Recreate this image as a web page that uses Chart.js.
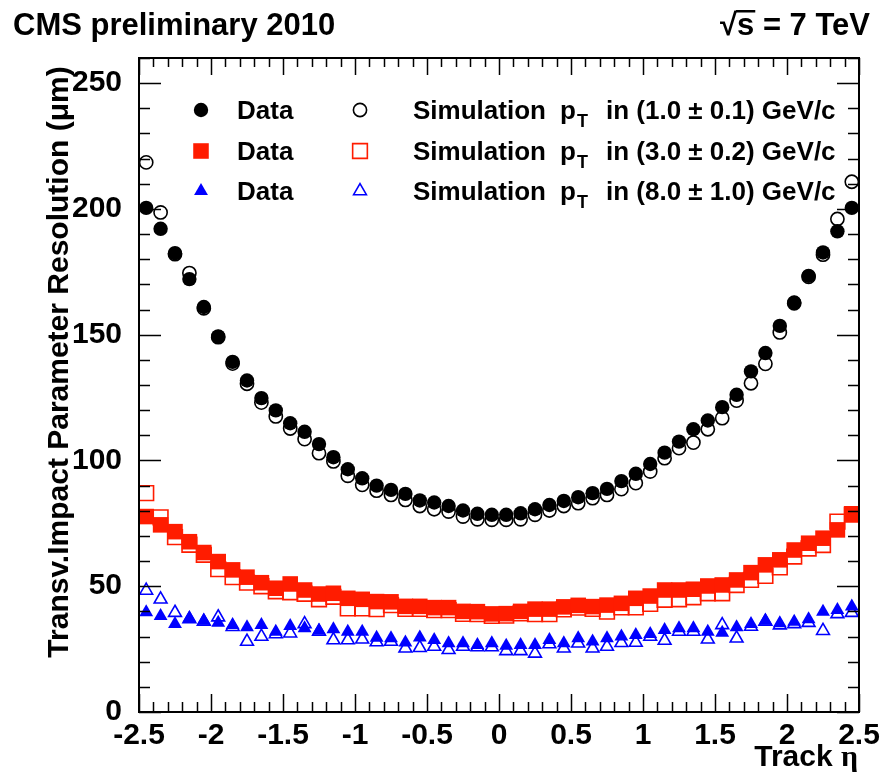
<!DOCTYPE html>
<html>
<head>
<meta charset="utf-8">
<title>Transverse impact parameter resolution vs track eta</title>
<script src="https://cdn.jsdelivr.net/npm/chart.js@4.4.1/dist/chart.umd.min.js"></script>
<style>
  html, body { margin: 0; padding: 0; background: #fff; }
  canvas { display: block; }
</style>
</head>
<body>
<canvas id="ipResolution" width="884" height="778"></canvas>
<script>
'use strict';

// bin centres in track eta
const etaBins = [
  -2.45, -2.35, -2.25, -2.15, -2.05, -1.95, -1.85, -1.75, -1.65, -1.55,
  -1.45, -1.35, -1.25, -1.15, -1.05, -0.95, -0.85, -0.75, -0.65, -0.55,
  -0.45, -0.35, -0.25, -0.15, -0.05, 0.05, 0.15, 0.25, 0.35, 0.45,
  0.55, 0.65, 0.75, 0.85, 0.95, 1.05, 1.15, 1.25, 1.35, 1.45,
  1.55, 1.65, 1.75, 1.85, 1.95, 2.05, 2.15, 2.25, 2.35, 2.45
];

// resolution in micrometres, pT 1.0 GeV/c
const dataPt1 = [
  200.4, 192.1, 182.4, 172.1, 161.0, 149.3, 139.2, 131.8, 124.8, 119.9,
  114.8, 111.4, 106.5, 101.3, 96.5, 92.9, 90.0, 88.3, 86.7, 84.1,
  83.3, 81.9, 80.1, 78.8, 78.4, 78.4, 79.0, 80.6, 82.3, 83.9,
  85.4, 87.0, 88.7, 91.8, 94.7, 98.6, 103.1, 107.5, 112.4, 115.9,
  121.2, 126.1, 135.4, 142.7, 153.5, 162.8, 173.4, 182.7, 191.1, 200.4
];
const simPt1 = [
  218.5, 198.6, 182.0, 174.5, 160.5, 149.0, 138.5, 130.5, 123.0, 117.5,
  112.7, 108.5, 102.9, 99.6, 93.9, 90.3, 88.0, 86.3, 84.3, 81.9,
  80.6, 79.7, 77.7, 76.6, 76.4, 76.4, 76.6, 78.4, 80.1, 81.9,
  83.0, 85.0, 86.3, 88.6, 91.0, 95.6, 100.9, 104.9, 107.1, 112.4,
  116.8, 123.8, 130.7, 138.4, 150.9, 162.5, 173.0, 181.8, 196.0, 210.8
];

// pT 3.0 GeV/c
const dataPt3 = [
  77.7, 74.4, 71.7, 67.7, 63.4, 59.8, 56.5, 53.6, 51.4, 49.2,
  50.9, 48.5, 46.9, 47.2, 45.2, 44.8, 43.9, 43.8, 42.0, 42.0,
  41.5, 41.5, 40.0, 39.9, 39.0, 39.1, 40.0, 40.9, 40.9, 41.8,
  42.4, 41.9, 42.5, 43.2, 45.2, 46.1, 48.5, 48.5, 48.8, 50.1,
  50.5, 52.5, 55.4, 58.5, 60.5, 64.4, 67.1, 69.1, 72.4, 78.8
];
const simPt3 = [
  87.0, 77.4, 69.5, 66.5, 62.5, 56.8, 53.6, 51.4, 50.0, 48.0,
  47.6, 47.0, 44.8, 45.8, 41.2, 41.2, 40.9, 42.5, 41.0, 41.0,
  40.5, 40.5, 39.0, 38.9, 38.2, 38.3, 39.2, 38.9, 38.9, 40.8,
  41.5, 41.0, 39.9, 41.6, 41.6, 43.0, 44.6, 44.8, 45.6, 47.2,
  47.2, 50.5, 52.5, 54.1, 57.5, 61.8, 65.0, 66.4, 75.7, 78.5
];

// pT 8.0 GeV/c
const dataPt8 = [
  39.7, 38.2, 35.0, 37.3, 36.3, 35.5, 34.6, 33.7, 34.6, 31.9,
  34.2, 33.3, 32.3, 32.9, 31.9, 31.9, 29.5, 29.3, 27.6, 29.6,
  28.6, 27.3, 27.3, 26.6, 27.3, 26.3, 26.6, 26.6, 28.6, 27.3,
  29.3, 28.0, 29.3, 30.0, 30.6, 31.0, 32.6, 33.3, 33.3, 31.9,
  31.5, 33.7, 35.0, 36.3, 35.3, 35.9, 36.9, 39.9, 40.6, 41.9
];
const simPt8 = [
  48.3, 44.8, 39.5, 37.0, 36.0, 37.7, 33.9, 28.0, 30.0, 31.0,
  31.3, 35.0, 32.0, 28.6, 28.6, 28.9, 27.8, 28.0, 25.3, 25.5,
  26.0, 24.7, 26.0, 25.8, 25.8, 24.3, 24.3, 23.3, 27.0, 25.3,
  27.3, 25.3, 26.0, 27.5, 27.6, 30.0, 28.4, 32.0, 32.0, 28.9,
  34.6, 29.3, 34.0, 36.0, 34.5, 35.0, 35.5, 32.3, 39.0, 39.5
];

const xTickValues = [-2.5, -2, -1.5, -1, -0.5, 0, 0.5, 1, 1.5, 2, 2.5];
const yTickValues = [0, 50, 100, 150, 200, 250];
const ptRanges = ['(1.0 \u00b1 0.1) GeV/c', '(3.0 \u00b1 0.2) GeV/c', '(8.0 \u00b1 1.0) GeV/c'];

const SANS = "'Liberation Sans', Arial, Helvetica, sans-serif";
const SERIF = "'Liberation Serif', 'DejaVu Serif', serif";
const RED = 'rgb(255, 28, 0)';
const BLUE = 'rgb(0, 0, 255)';

// marker look per pT bin
const markers = [
  { style: 'circle', color: '#000', radius: 7.2 },
  { style: 'rect', color: RED, radius: 11 },
  { style: 'triangle', color: BLUE, radius: 8 }
];

function points(values) {
  return etaBins.map((eta, i) => ({ x: eta, y: values[i] }));
}

function dataSet(label, values, m, filled) {
  return {
    label: label,
    data: points(values),
    pointStyle: m.style,
    pointRadius: filled ? m.radius : m.radius - 0.6,
    pointBackgroundColor: filled ? m.color : 'rgba(0,0,0,0)',
    pointBorderColor: m.color,
    pointBorderWidth: filled ? 0 : 1.6,
    pointHoverRadius: m.radius,
    showLine: false,
    order: filled ? 0 : 1
  };
}

function drawMarker(ctx, m, x, y, filled) {
  const r = filled ? m.radius : m.radius - 0.6;
  ctx.save();
  ctx.beginPath();
  if (m.style === 'circle') {
    ctx.arc(x, y, r, 0, Math.PI * 2);
  } else if (m.style === 'rect') {
    const s = r * Math.SQRT1_2;
    ctx.rect(x - s, y - s, 2 * s, 2 * s);
  } else {
    ctx.moveTo(x, y - r);
    ctx.lineTo(x + r * Math.sin(Math.PI * 2 / 3), y - r * Math.cos(Math.PI * 2 / 3));
    ctx.lineTo(x + r * Math.sin(Math.PI * 4 / 3), y - r * Math.cos(Math.PI * 4 / 3));
    ctx.closePath();
  }
  if (filled) {
    ctx.fillStyle = m.color;
    ctx.fill();
  } else {
    ctx.strokeStyle = m.color;
    ctx.lineWidth = 1.6;
    ctx.stroke();
  }
  ctx.restore();
}

// frame with inward ticks on all four sides, ROOT style
const frame = {
  id: 'frame',
  afterDatasetsDraw(chart) {
    const ctx = chart.ctx;
    const a = chart.chartArea;
    const xs = chart.scales.x;
    const ys = chart.scales.y;
    ctx.save();
    ctx.strokeStyle = '#000';
    ctx.lineWidth = 1.5;
    ctx.beginPath();
    for (let k = -25; k <= 25; k++) {
      const px = Math.round(xs.getPixelForValue(k / 10)) + 0.5;
      const major = k % 5 === 0;
      ctx.moveTo(px, a.bottom);
      ctx.lineTo(px, a.bottom - (major ? 18 : 10));
      ctx.moveTo(px, a.top);
      ctx.lineTo(px, a.top + (major ? 17 : 9));
    }
    for (let v = 0; v <= 260; v += 10) {
      const py = Math.round(ys.getPixelForValue(v)) + 0.5;
      const major = v % 50 === 0;
      ctx.moveTo(a.left, py);
      ctx.lineTo(a.left + (major ? 22 : 11), py);
      ctx.moveTo(a.right, py);
      ctx.lineTo(a.right - (major ? 22 : 11), py);
    }
    ctx.stroke();
    ctx.lineWidth = 2;
    ctx.strokeRect(a.left, a.top, a.right - a.left, a.bottom - a.top);
    ctx.restore();
  },
  afterDraw(chart) {
    const ctx = chart.ctx;
    ctx.save();
    ctx.fillStyle = '#000';
    ctx.textBaseline = 'alphabetic';

    // header
    ctx.font = 'bold 31px ' + SANS;
    ctx.textAlign = 'left';
    ctx.fillText('CMS preliminary 2010', 13, 35);
    ctx.textAlign = 'right';
    const energy = 's = 7 TeV';
    ctx.fillText(energy, 870, 35);
    const sx = 870 - ctx.measureText(energy).width;
    const sw = ctx.measureText('s').width;
    ctx.fillText('\u221a', sx, 35);
    ctx.fillRect(sx - 1, 10, sw + 2, 2.5);

    // axis titles
    ctx.textAlign = 'right';
    ctx.font = 'bold 30px ' + SERIF;
    const etaW = ctx.measureText('\u03b7').width;
    ctx.fillText('\u03b7', 858, 766);
    ctx.font = 'bold 30px ' + SANS;
    ctx.fillText('Track ', 858 - etaW, 766);

    ctx.save();
    ctx.translate(68, 362);
    ctx.rotate(-Math.PI / 2);
    ctx.textAlign = 'center';
    ctx.fillText('Transv.Impact Parameter Resolution (\u03bcm)', 0, 0);
    ctx.restore();

    // legend
    const rowY = [110, 151, 191];
    ctx.textAlign = 'left';
    rowY.forEach((y, i) => {
      drawMarker(ctx, markers[i], 201, y, true);
      drawMarker(ctx, markers[i], 360, y, false);
      ctx.font = 'bold 26px ' + SANS;
      ctx.fillText('Data', 237, y + 9);
      ctx.fillText('Simulation', 413, y + 9);
      ctx.fillText('p', 560, y + 9);
      const pw = ctx.measureText('p').width;
      ctx.font = 'bold 18px ' + SANS;
      ctx.fillText('T', 560 + pw + 1, y + 17);
      ctx.font = 'bold 26px ' + SANS;
      ctx.fillText('in ' + ptRanges[i], 606, y + 9);
    });
    ctx.restore();
  }
};

new Chart(document.getElementById('ipResolution'), {
  type: 'scatter',
  data: {
    datasets: [
      dataSet('Data', dataPt1, markers[0], true),
      dataSet('Data', dataPt3, markers[1], true),
      dataSet('Data', dataPt8, markers[2], true),
      dataSet('Simulation pT in ' + ptRanges[0], simPt1, markers[0], false),
      dataSet('Simulation pT in ' + ptRanges[1], simPt3, markers[1], false),
      dataSet('Simulation pT in ' + ptRanges[2], simPt8, markers[2], false)
    ]
  },
  options: {
    responsive: false,
    devicePixelRatio: 1,
    animation: false,
    layout: { padding: { top: 58, right: 25, left: 0, bottom: 0 } },
    plugins: {
      legend: { display: false },
      tooltip: { enabled: false }
    },
    scales: {
      x: {
        type: 'linear',
        min: -2.5,
        max: 2.5,
        grid: { display: false },
        border: { display: false },
        afterBuildTicks(scale) {
          scale.ticks = xTickValues.map(v => ({ value: v }));
        },
        afterFit(scale) { scale.height = 66; },
        ticks: {
          autoSkip: false,
          maxRotation: 0,
          padding: -2,
          color: '#000',
          font: { family: SANS, size: 30, weight: 'bold' },
          callback: v => String(v)
        }
      },
      y: {
        type: 'linear',
        min: 0,
        max: 260,
        grid: { display: false },
        border: { display: false },
        afterBuildTicks(scale) {
          scale.ticks = yTickValues.map(v => ({ value: v }));
        },
        afterFit(scale) { scale.width = 139; },
        ticks: {
          autoSkip: false,
          padding: 9,
          color: '#000',
          font: { family: SANS, size: 30, weight: 'bold' },
          callback: v => String(v)
        }
      }
    }
  },
  plugins: [frame]
});
</script>
</body>
</html>
